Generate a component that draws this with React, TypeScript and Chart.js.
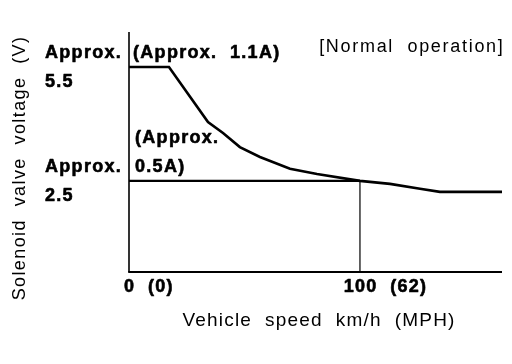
import React, { useEffect, useRef } from "react";
import { Chart, registerables } from "chart.js";

Chart.register(...registerables);

// ---- data ----
const speedKmh = [0, 17.3, 34.2, 40.7, 48, 56.7, 69.7, 81.4, 100, 113, 126, 134.6, 161.5];
const voltageV = [5.5, 5.5, 4.05, 3.76, 3.39, 3.13, 2.82, 2.68, 2.5, 2.42, 2.29, 2.21, 2.21];
const refSpeed = [0, 100];
const refVoltage = [2.5, 2.5];
const xTickValues = [0, 100];
const xTickLabels = [["0", "(0)"], ["100", "(62)"]];
const yTickValues = [5.5, 2.5];
const yTickLabels = [["Approx.", "5.5"], ["Approx.", "2.5"]];
const currentLabels = [["(Approx.  1.1A)"], ["(Approx.", "0.5A)"]];
const currentAtVoltage = [5.5, 2.5];
const noteText = "[Normal  operation]";
const xTitle = "Vehicle  speed  km/h  (MPH)";
const yTitle = "Solenoid  valve  voltage  (V)";
const xMin = 0;
const xMax = 161.5;
const yMin = 0.1;
const yMax = 6.42;

const FAMILY = '"Liberation Sans", Arial, Helvetica, sans-serif';

function boldText(ctx: CanvasRenderingContext2D, t: string, x: number, y: number) {
  ctx.fillText(t, x, y);
  ctx.strokeText(t, x, y);
}

const textPlugin = {
  id: "textPlugin",
  afterDraw(chart: any) {
    const ctx = chart.ctx as CanvasRenderingContext2D;
    const xs = chart.scales.x;
    const ys = chart.scales.y;
    const area = chart.chartArea;
    ctx.save();
    ctx.fillStyle = "#000";
    ctx.strokeStyle = "#000";

    // axis lines
    ctx.lineWidth = 1.6;
    ctx.beginPath();
    ctx.moveTo(area.left, area.top);
    ctx.lineTo(area.left, area.bottom);
    ctx.stroke();
    ctx.lineWidth = 2.2;
    ctx.beginPath();
    ctx.moveTo(area.left - 0.8, area.bottom);
    ctx.lineTo(area.right, area.bottom);
    ctx.stroke();

    // bold labels
    ctx.font = `bold 18px ${FAMILY}`;
    (ctx as any).letterSpacing = "1.3px";
    ctx.lineWidth = 0.6;
    ctx.lineJoin = "round";
    ctx.textBaseline = "alphabetic";
    ctx.textAlign = "left";

    // y tick labels
    yTickValues.forEach((v, i) => {
      const py = ys.getPixelForValue(v);
      const lines = yTickLabels[i];
      boldText(ctx, lines[0], 45, py - 9);
      boldText(ctx, lines[1], 45, py + 20);
    });

    // x tick labels: first token centred on tick
    xTickValues.forEach((v, i) => {
      const px = xs.getPixelForValue(v);
      const [num, paren] = xTickLabels[i];
      const w = ctx.measureText(num).width - 1.3;
      const text = num + "  " + paren;
      boldText(ctx, text, px - w / 2, area.bottom + 20);
    });

    // current annotations
    currentLabels.forEach((lines, i) => {
      const py = ys.getPixelForValue(currentAtVoltage[i]);
      const px = xs.getPixelForValue(xMin);
      if (lines.length === 1) {
        boldText(ctx, lines[0], px + 4, py - 9);
      } else {
        boldText(ctx, lines[0], px + 6, py - 38);
        boldText(ctx, lines[1], px + 6, py - 9);
      }
    });

    // note
    ctx.font = `18px ${FAMILY}`;
    (ctx as any).letterSpacing = "1.7px";
    ctx.textAlign = "right";
    ctx.fillText(noteText, area.right + 2.5, 52);

    // x title
    ctx.font = `19px ${FAMILY}`;
    (ctx as any).letterSpacing = "1.2px";
    ctx.textAlign = "center";
    ctx.fillText(xTitle, 319, 326);

    // y title
    ctx.font = `18px ${FAMILY}`;
    (ctx as any).letterSpacing = "1.4px";
    ctx.translate(25, 168);
    ctx.rotate(-Math.PI / 2);
    ctx.textAlign = "center";
    ctx.fillText(yTitle, 0, 0);

    ctx.restore();
  },
};

export default function App() {
  const ref = useRef<HTMLCanvasElement | null>(null);
  useEffect(() => {
    if (!ref.current) return;
    const curve = speedKmh.map((s, i) => ({ x: s, y: voltageV[i] }));
    const refLine = refSpeed.map((s, i) => ({ x: s, y: refVoltage[i] }));
    const vertical = [
      { x: xTickValues[1], y: refVoltage[1] },
      { x: xTickValues[1], y: yMin },
    ];
    const chart = new Chart(ref.current, {
      type: "line",
      data: {
        datasets: [
          { data: curve, borderColor: "#000", borderWidth: 2.6, pointRadius: 0, tension: 0, clip: false as any },
          { data: refLine, borderColor: "#000", borderWidth: 2.2, pointRadius: 0, tension: 0, clip: false as any },
          { data: vertical, borderColor: "#000", borderWidth: 1.2, pointRadius: 0, tension: 0, clip: false as any },
        ],
      },
      options: {
        animation: false,
        responsive: false,
        devicePixelRatio: 1,
        layout: { padding: { left: 129, right: 10, top: 32, bottom: 92 } },
        plugins: { legend: { display: false }, tooltip: { enabled: false } },
        scales: {
          x: { type: "linear", min: xMin, max: xMax, display: false },
          y: { type: "linear", min: yMin, max: yMax, display: false },
        },
      },
      plugins: [textPlugin],
    });
    return () => chart.destroy();
  }, []);
  return (
    <div style={{ position: "fixed", left: 0, top: 0, width: 512, height: 364, background: "#fff" }}>
      <canvas ref={ref} width={512} height={364} style={{ display: "block" }} />
    </div>
  );
}
